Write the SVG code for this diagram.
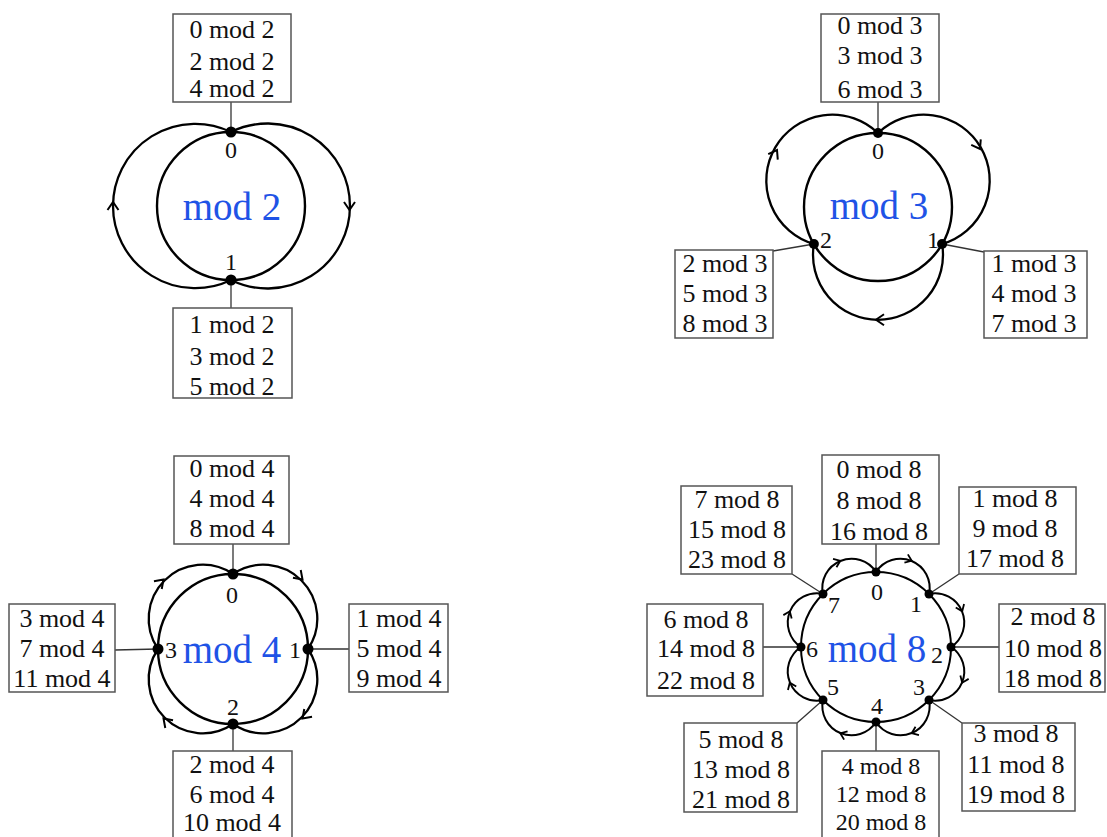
<svg xmlns="http://www.w3.org/2000/svg" xmlns:xlink="http://www.w3.org/1999/xlink" width="1107" height="837" viewBox="0 0 1107 837">
<style>
.ring{fill:none;stroke:#000;stroke-width:2.4}
.arc{fill:none;stroke:#000;stroke-width:2.3}
.arc8{fill:none;stroke:#000;stroke-width:2}
.lead{stroke:#333;stroke-width:1.3;fill:none}
.box{fill:#fff;stroke:#555;stroke-width:1.5}
.bt{font-family:"Liberation Serif","Times New Roman",serif;font-size:26px;fill:#111;text-anchor:middle}
.bts{font-family:"Liberation Serif","Times New Roman",serif;font-size:24px;fill:#111;text-anchor:middle}
.nl{font-family:"Liberation Serif","Times New Roman",serif;font-size:24px;fill:#111;text-anchor:middle}
.title{font-family:"Liberation Serif","Times New Roman",serif;font-size:39px;fill:#1f53e6;text-anchor:middle}
.dot{fill:#000}
</style>
<defs>
<path id="ah" d="M-8,-5.5 L0,0 L-8,5.5" fill="none" stroke="#000" stroke-width="2" stroke-linejoin="miter"/>
<path id="ahs" d="M-6,-4.5 L0,0 L-6,4.5" fill="none" stroke="#000" stroke-width="1.8"/>
</defs>
<rect width="1107" height="837" fill="#fff"/>

<!-- ================= connectors ================= -->
<g id="connectors">
  <!-- mod 2 -->
  <path class="arc" d="M231,132 A82.2,82.2 0 1 0 231,280"/>
  <path class="arc" d="M231,132 A82.5,82.5 0 1 1 231,280"/>
  <use xlink:href="#ah" transform="translate(113,202) rotate(-90)"/>
  <use xlink:href="#ah" transform="translate(349.5,210) rotate(90)"/>
  <line class="lead" x1="231" y1="102" x2="231" y2="132"/>
  <line class="lead" x1="231" y1="280" x2="231" y2="308"/>

  <!-- mod 3 -->
  <path class="arc" d="M878,133 A66,66 0 1 1 942.1,244"/>
  <path class="arc" d="M942.1,244 A65,65 0 1 1 813.9,244"/>
  <path class="arc" d="M813.9,244 A66,66 0 1 1 878,133"/>
  <use xlink:href="#ah" transform="translate(980,149) rotate(60)"/>
  <use xlink:href="#ah" transform="translate(876,319.8) rotate(180)"/>
  <use xlink:href="#ah" transform="translate(777,150) rotate(-60)"/>
  <line class="lead" x1="878" y1="102" x2="878" y2="133"/>
  <line class="lead" x1="813.9" y1="244" x2="773" y2="251"/>
  <line class="lead" x1="942.1" y1="244" x2="984" y2="252"/>

  <!-- mod 4 -->
  <path class="arc" d="M233,574 A54,54 0 0 1 308,649"/>
  <path class="arc" d="M308,649 A54,54 0 0 1 233,724"/>
  <path class="arc" d="M233,724 A54,54 0 0 1 158,649"/>
  <path class="arc" d="M158,649 A54,54 0 0 1 233,574"/>
  <use xlink:href="#ah" transform="translate(302.5,579.5) rotate(45)"/>
  <use xlink:href="#ah" transform="translate(302.5,718.5) rotate(135)"/>
  <use xlink:href="#ah" transform="translate(163.5,718.5) rotate(225)"/>
  <use xlink:href="#ah" transform="translate(163.5,579.5) rotate(315)"/>
  <line class="lead" x1="233" y1="544" x2="233" y2="574"/>
  <line class="lead" x1="158" y1="649" x2="115" y2="650"/>
  <line class="lead" x1="308" y1="649" x2="349" y2="649"/>
  <line class="lead" x1="233" y1="724" x2="233" y2="751"/>

  <!-- mod 8 -->
  <path class="arc8" d="M876,572 A29.2,29.2 0 0 1 929.03,593.97"/>
  <path class="arc8" d="M929.03,593.97 A29.2,29.2 0 0 1 951,647"/>
  <path class="arc8" d="M951,647 A29.2,29.2 0 0 1 929.03,700.03"/>
  <path class="arc8" d="M929.03,700.03 A29.2,29.2 0 0 1 876,722"/>
  <path class="arc8" d="M876,722 A29.2,29.2 0 0 1 822.97,700.03"/>
  <path class="arc8" d="M822.97,700.03 A29.2,29.2 0 0 1 801,647"/>
  <path class="arc8" d="M801,647 A29.2,29.2 0 0 1 822.97,593.97"/>
  <path class="arc8" d="M822.97,593.97 A29.2,29.2 0 0 1 876,572"/>
  <use xlink:href="#ahs" transform="translate(911.7,560.8) rotate(22.5)"/>
  <use xlink:href="#ahs" transform="translate(962.2,611.3) rotate(67.5)"/>
  <use xlink:href="#ahs" transform="translate(962.2,682.7) rotate(112.5)"/>
  <use xlink:href="#ahs" transform="translate(911.7,733.2) rotate(157.5)"/>
  <use xlink:href="#ahs" transform="translate(840.3,733.2) rotate(202.5)"/>
  <use xlink:href="#ahs" transform="translate(789.8,682.7) rotate(247.5)"/>
  <use xlink:href="#ahs" transform="translate(789.8,611.3) rotate(292.5)"/>
  <use xlink:href="#ahs" transform="translate(840.3,560.8) rotate(337.5)"/>
  <line class="lead" x1="876" y1="572" x2="876" y2="544"/>
  <line class="lead" x1="823" y1="594" x2="792" y2="574"/>
  <line class="lead" x1="929" y1="594" x2="959" y2="574"/>
  <line class="lead" x1="801" y1="647" x2="763" y2="647"/>
  <line class="lead" x1="951" y1="647" x2="999" y2="647"/>
  <line class="lead" x1="823" y1="700" x2="797" y2="723"/>
  <line class="lead" x1="876" y1="722" x2="876" y2="751"/>
  <line class="lead" x1="929" y1="700" x2="962" y2="723"/>
</g>

<!-- ================= mod 2 ================= -->
<g id="diagram-mod2">
  <circle class="ring" cx="231" cy="206" r="74"/>
  <text class="title" x="232" y="220">mod 2</text>
  <g id="m2-n0">
    <circle class="dot" cx="231" cy="132" r="5.5"/>
    <text class="nl" x="231" y="158">0</text>
    <rect class="box" x="173" y="14" width="118" height="88"/>
    <text class="bt" x="232" y="38">0 mod 2</text>
    <text class="bt" x="232" y="70">2 mod 2</text>
    <text class="bt" x="232" y="97">4 mod 2</text>
  </g>
  <g id="m2-n1">
    <circle class="dot" cx="231" cy="280" r="5.5"/>
    <text class="nl" x="231" y="270">1</text>
    <rect class="box" x="173" y="308" width="119" height="90"/>
    <text class="bt" x="232" y="333">1 mod 2</text>
    <text class="bt" x="232" y="365">3 mod 2</text>
    <text class="bt" x="232" y="395">5 mod 2</text>
  </g>
</g>

<!-- ================= mod 3 ================= -->
<g id="diagram-mod3">
  <circle class="ring" cx="878" cy="207" r="74"/>
  <text class="title" x="879" y="219">mod 3</text>
  <g id="m3-n0">
    <circle class="dot" cx="878" cy="133" r="5"/>
    <text class="nl" x="878" y="159">0</text>
    <rect class="box" x="821" y="14" width="118" height="88"/>
    <text class="bt" x="880" y="34">0 mod 3</text>
    <text class="bt" x="880" y="64">3 mod 3</text>
    <text class="bt" x="880" y="98">6 mod 3</text>
  </g>
  <g id="m3-n1">
    <circle class="dot" cx="942.1" cy="244" r="5"/>
    <text class="nl" x="933" y="248">1</text>
    <rect class="box" x="984" y="251" width="103" height="87"/>
    <text class="bt" x="1034" y="272">1 mod 3</text>
    <text class="bt" x="1034" y="302">4 mod 3</text>
    <text class="bt" x="1034" y="332">7 mod 3</text>
  </g>
  <g id="m3-n2">
    <circle class="dot" cx="813.9" cy="244" r="5"/>
    <text class="nl" x="826" y="248">2</text>
    <rect class="box" x="675" y="250" width="98" height="88"/>
    <text class="bt" x="725" y="272">2 mod 3</text>
    <text class="bt" x="725" y="302">5 mod 3</text>
    <text class="bt" x="725" y="332">8 mod 3</text>
  </g>
</g>

<!-- ================= mod 4 ================= -->
<g id="diagram-mod4">
  <circle class="ring" cx="233" cy="649" r="75"/>
  <text class="title" x="232" y="663">mod 4</text>
  <g id="m4-n0">
    <circle class="dot" cx="233" cy="574" r="5.5"/>
    <text class="nl" x="232" y="603">0</text>
    <rect class="box" x="174" y="456" width="115" height="88"/>
    <text class="bt" x="232" y="477">0 mod 4</text>
    <text class="bt" x="232" y="507">4 mod 4</text>
    <text class="bt" x="232" y="537">8 mod 4</text>
  </g>
  <g id="m4-n1">
    <circle class="dot" cx="308" cy="649" r="5.5"/>
    <text class="nl" x="295" y="658">1</text>
    <rect class="box" x="349" y="604" width="99" height="88"/>
    <text class="bt" x="399" y="627">1 mod 4</text>
    <text class="bt" x="399" y="657">5 mod 4</text>
    <text class="bt" x="399" y="687">9 mod 4</text>
  </g>
  <g id="m4-n2">
    <circle class="dot" cx="233" cy="724" r="5.5"/>
    <text class="nl" x="233" y="715">2</text>
    <rect class="box" x="173" y="751" width="119" height="92"/>
    <text class="bt" x="232" y="773">2 mod 4</text>
    <text class="bt" x="232" y="803">6 mod 4</text>
    <text class="bt" x="232" y="831">10 mod 4</text>
  </g>
  <g id="m4-n3">
    <circle class="dot" cx="158" cy="649" r="5.5"/>
    <text class="nl" x="171" y="658">3</text>
    <rect class="box" x="9" y="604" width="106" height="88"/>
    <text class="bt" x="62" y="627">3 mod 4</text>
    <text class="bt" x="62" y="657">7 mod 4</text>
    <text class="bt" x="62" y="687">11 mod 4</text>
  </g>
</g>

<!-- ================= mod 8 ================= -->
<g id="diagram-mod8">
  <circle class="ring" cx="876" cy="647" r="75" style="stroke-width:2"/>
  <text class="title" x="877" y="662">mod 8</text>
  <g id="m8-n0">
    <circle class="dot" cx="876" cy="572" r="4.5"/>
    <text class="nl" x="877" y="600">0</text>
    <rect class="box" x="822" y="455" width="117" height="89"/>
    <text class="bt" x="879" y="478">0 mod 8</text>
    <text class="bt" x="879" y="509">8 mod 8</text>
    <text class="bt" x="879" y="540">16 mod 8</text>
  </g>
  <g id="m8-n1">
    <circle class="dot" cx="929" cy="594" r="4.5"/>
    <text class="nl" x="916" y="612">1</text>
    <rect class="box" x="959" y="487" width="117" height="87"/>
    <text class="bt" x="1015" y="507">1 mod 8</text>
    <text class="bt" x="1015" y="537">9 mod 8</text>
    <text class="bt" x="1015" y="567">17 mod 8</text>
  </g>
  <g id="m8-n2">
    <circle class="dot" cx="951" cy="647" r="4.5"/>
    <text class="nl" x="937" y="663">2</text>
    <rect class="box" x="999" y="604" width="106" height="88"/>
    <text class="bt" x="1053" y="625">2 mod 8</text>
    <text class="bt" x="1053" y="657">10 mod 8</text>
    <text class="bt" x="1053" y="687">18 mod 8</text>
  </g>
  <g id="m8-n3">
    <circle class="dot" cx="929" cy="700" r="4.5"/>
    <text class="nl" x="919" y="695">3</text>
    <rect class="box" x="962" y="723" width="113" height="88"/>
    <text class="bt" x="1016" y="742">3 mod 8</text>
    <text class="bt" x="1016" y="773">11 mod 8</text>
    <text class="bt" x="1016" y="803">19 mod 8</text>
  </g>
  <g id="m8-n4">
    <circle class="dot" cx="876" cy="722" r="4.5"/>
    <text class="nl" x="877" y="714">4</text>
    <rect class="box" x="822" y="751" width="117" height="92"/>
    <text class="bts" x="881" y="774">4 mod 8</text>
    <text class="bts" x="881" y="802">12 mod 8</text>
    <text class="bts" x="881" y="830">20 mod 8</text>
  </g>
  <g id="m8-n5">
    <circle class="dot" cx="823" cy="700" r="4.5"/>
    <text class="nl" x="833" y="695">5</text>
    <rect class="box" x="684" y="723" width="113" height="89"/>
    <text class="bt" x="741" y="748">5 mod 8</text>
    <text class="bt" x="741" y="778">13 mod 8</text>
    <text class="bt" x="741" y="808">21 mod 8</text>
  </g>
  <g id="m8-n6">
    <circle class="dot" cx="801" cy="647" r="4.5"/>
    <text class="nl" x="812" y="657">6</text>
    <rect class="box" x="647" y="604" width="116" height="92"/>
    <text class="bt" x="706" y="628">6 mod 8</text>
    <text class="bt" x="706" y="657">14 mod 8</text>
    <text class="bt" x="706" y="689">22 mod 8</text>
  </g>
  <g id="m8-n7">
    <circle class="dot" cx="823" cy="594" r="4.5"/>
    <text class="nl" x="834" y="613">7</text>
    <rect class="box" x="681" y="486" width="111" height="88"/>
    <text class="bt" x="737" y="508">7 mod 8</text>
    <text class="bt" x="737" y="538">15 mod 8</text>
    <text class="bt" x="737" y="568">23 mod 8</text>
  </g>
</g>
</svg>
